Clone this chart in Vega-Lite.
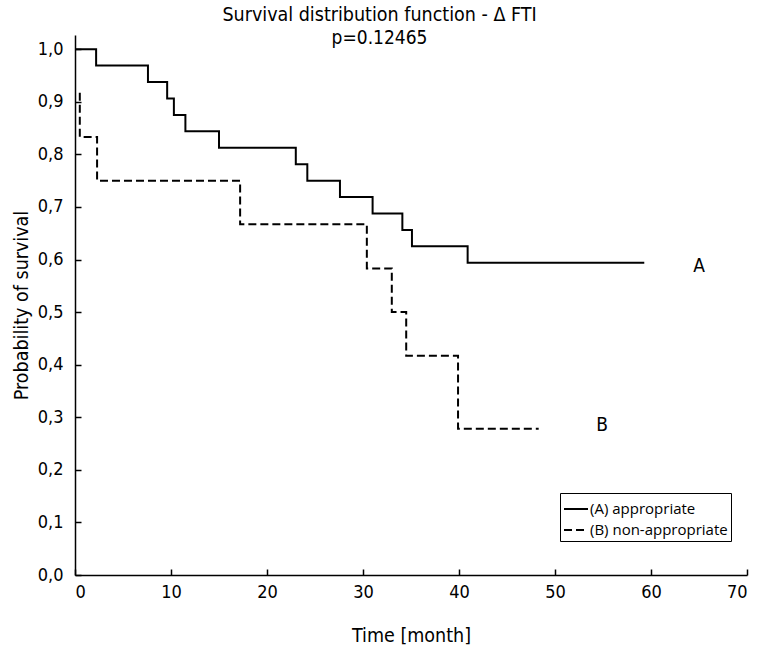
{
  "$schema": "https://vega.github.io/schema/vega-lite/v6.json",
  "width": 672,
  "height": 540,
  "autosize": {"type": "none"},
  "padding": {"left": 75, "top": 35, "right": 13, "bottom": 74},
  "background": "white",
  "title": {
    "text": "Survival distribution function - Δ FTI",
    "subtitle": "p=0.12465",
    "anchor": "middle",
    "frame": "bounds",
    "offset": -14,
    "font": "DejaVu Sans Condensed, Roboto",
    "fontSize": 19.5,
    "fontWeight": "normal",
    "color": "black",
    "subtitleFont": "DejaVu Sans Condensed, Roboto",
    "subtitleFontSize": 19,
    "subtitleColor": "black",
    "subtitlePadding": 4
  },
  "config": {
    "view": {"stroke": null},
    "axis": {
      "grid": false,
      "domainColor": "black",
      "domainWidth": 1.5,
      "tickColor": "black",
      "tickWidth": 1.5,
      "labelColor": "black",
      "titleColor": "black",
      "labelFont": "DejaVu Sans Condensed, Roboto",
      "titleFont": "DejaVu Sans Condensed, Roboto",
      "labelFontSize": 18,
      "titleFontSize": 19.5,
      "titleFontWeight": "normal"
    }
  },
  "layer": [
    {
      "data": {
        "values": [
          {"group": "(A) appropriate", "t": 0, "s": 1.0},
          {"group": "(A) appropriate", "t": 2.2, "s": 0.969},
          {"group": "(A) appropriate", "t": 7.6, "s": 0.9375},
          {"group": "(A) appropriate", "t": 9.6, "s": 0.906},
          {"group": "(A) appropriate", "t": 10.3, "s": 0.875},
          {"group": "(A) appropriate", "t": 11.5, "s": 0.844},
          {"group": "(A) appropriate", "t": 15.0, "s": 0.8125},
          {"group": "(A) appropriate", "t": 23.0, "s": 0.781},
          {"group": "(A) appropriate", "t": 24.2, "s": 0.75},
          {"group": "(A) appropriate", "t": 27.6, "s": 0.719},
          {"group": "(A) appropriate", "t": 31.0, "s": 0.6875},
          {"group": "(A) appropriate", "t": 34.1, "s": 0.656},
          {"group": "(A) appropriate", "t": 35.1, "s": 0.625},
          {"group": "(A) appropriate", "t": 40.9, "s": 0.594},
          {"group": "(A) appropriate", "t": 59.3, "s": 0.594},
          {"group": "(B) non-appropriate", "t": 0.5, "s": 0.917},
          {"group": "(B) non-appropriate", "t": 0.5, "s": 0.833},
          {"group": "(B) non-appropriate", "t": 2.3, "s": 0.75},
          {"group": "(B) non-appropriate", "t": 17.2, "s": 0.667},
          {"group": "(B) non-appropriate", "t": 30.4, "s": 0.583},
          {"group": "(B) non-appropriate", "t": 33.0, "s": 0.5},
          {"group": "(B) non-appropriate", "t": 34.5, "s": 0.417},
          {"group": "(B) non-appropriate", "t": 39.9, "s": 0.278},
          {"group": "(B) non-appropriate", "t": 48.3, "s": 0.278}
        ]
      },
      "mark": {"type": "line", "interpolate": "step-after", "color": "black", "strokeWidth": 2},
      "encoding": {
        "x": {
          "field": "t", "type": "quantitative",
          "scale": {"domain": [0, 70], "nice": false},
          "axis": {"values": [0, 10, 20, 30, 40, 50, 60, 70], "tickSize": -6, "labelPadding": 14, "title": "Time [month]", "titlePadding": 25, "format": "d"}
        },
        "y": {
          "field": "s", "type": "quantitative",
          "scale": {"domain": [0, 1.027], "nice": false},
          "axis": {
            "values": [0, 0.1, 0.2, 0.3, 0.4, 0.5, 0.6, 0.7, 0.8, 0.9, 1.0],
            "tickSize": -6, "labelPadding": 18,
            "labelExpr": "replace(format(datum.value, '.1f'), '.', ',')",
            "title": "Probability of survival", "titlePadding": 6
          }
        },
        "strokeDash": {
          "field": "group", "type": "nominal",
          "scale": {"domain": ["(A) appropriate", "(B) non-appropriate"], "range": [[1, 0], [8, 4]]},
          "legend": {
            "title": null,
            "orient": "none",
            "legendX": 485,
            "legendY": 458,
            "symbolType": "stroke",
            "symbolSize": 576,
            "symbolStrokeColor": "black",
            "symbolStrokeWidth": 2,
            "labelFont": "Open Sans",
            "labelFontSize": 15,
            "labelColor": "black",
            "labelOffset": 1,
            "rowPadding": 0,
            "padding": 3,
            "strokeColor": "black",
            "fillColor": "white"
          }
        }
      }
    },
    {
      "data": {"values": [{"t": 65.0, "s": 0.587, "label": "A"}, {"t": 54.9, "s": 0.285, "label": "B"}]},
      "mark": {"type": "text", "font": "DejaVu Sans Condensed, Roboto", "fontSize": 19, "color": "black"},
      "encoding": {
        "x": {"field": "t", "type": "quantitative"},
        "y": {"field": "s", "type": "quantitative"},
        "text": {"field": "label"}
      }
    }
  ]
}
